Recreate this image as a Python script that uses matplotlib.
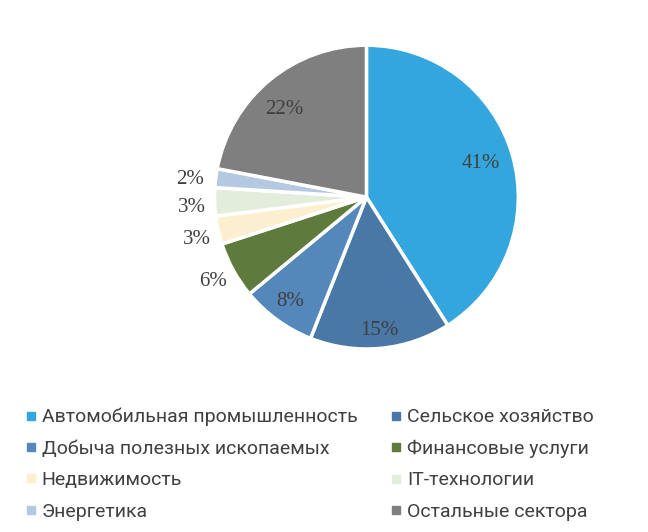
import numpy as np
import matplotlib.pyplot as plt
from matplotlib.lines import Line2D

sectors = [
    "Автомобильная промышленность",
    "Сельское хозяйство",
    "Добыча полезных ископаемых",
    "Финансовые услуги",
    "Недвижимость",
    "IT-технологии",
    "Энергетика",
    "Остальные сектора",
]
shares = [41, 15, 8, 6, 3, 3, 2, 22]
colors = ["#33A7DD", "#4A78A6", "#5487BA", "#5E7A3C",
          "#FBEFCF", "#E2EEDB", "#B4C8E2", "#7F7F80"]

# label placement: radius (in pie radii) and angle nudge (deg) per slice
label_r = [0.785, 0.88, 0.85, 1.15, 1.15, 1.15, 1.17, 0.79]
label_nudge = [0, 0, 0, 0, 1.3, 1.5, 1.4, 3.7]

fig = plt.figure(figsize=(6.48, 5.32), dpi=100)
ax = fig.add_axes([0.331, 0.344, 0.469, 0.571])

wedges, texts, autotexts = ax.pie(
    shares, colors=colors, startangle=90, counterclock=False,
    autopct="%1.0f%%", pctdistance=0.8,
    wedgeprops=dict(edgecolor="white", linewidth=2.5),
    textprops=dict(family="Liberation Serif", fontsize=15, color="#404040"),
)
ax.set_aspect("equal")
ax.set_xlim(-1, 1)
ax.set_ylim(-1, 1)

for w, t, r, nd in zip(wedges, autotexts, label_r, label_nudge):
    ang = np.deg2rad((w.theta1 + w.theta2) / 2 + nd)
    t.set_position((r * np.cos(ang), r * np.sin(ang)))
    t.set_clip_on(False)

handles = [Line2D([], [], marker="s", linestyle="", markersize=6,
                  markerfacecolor=c, markeredgecolor=c) for c in colors]
# legend fills column by column, reference reads row by row
order = [0, 2, 4, 6, 1, 3, 5, 7]
fig.legend(
    [handles[i] for i in order], [sectors[i] for i in order],
    loc="lower left", bbox_to_anchor=(0.015, -0.012), ncol=2, frameon=False,
    prop=dict(family="Roboto", size=14), labelcolor="#404040",
    handlelength=0.4, handletextpad=0.35,
    columnspacing=1.8, labelspacing=0.69,
)

fig.savefig("out.png", dpi=100)
